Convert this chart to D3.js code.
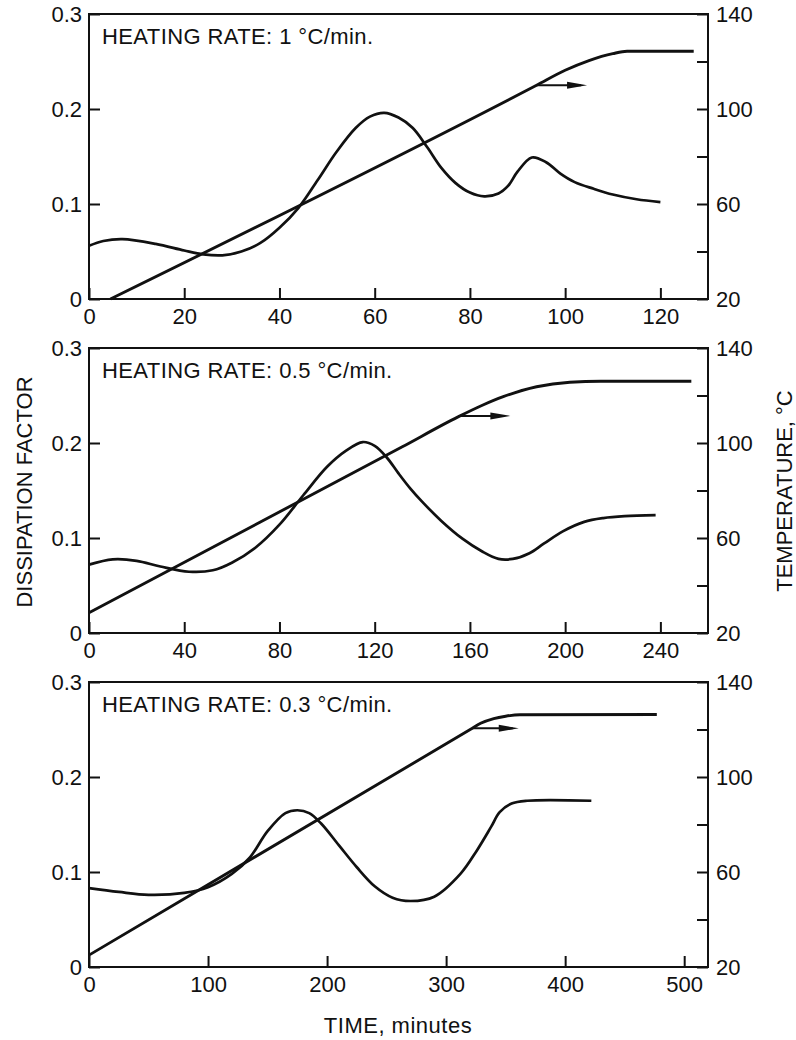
<!DOCTYPE html>
<html>
<head>
<meta charset="utf-8">
<script src="https://d3js.org/d3.v7.min.js"></script>
<style>
  body { margin: 0; background: #fff; }
  text { font-family: "Liberation Sans", Arial, Helvetica, sans-serif; fill: #111; }
</style>
</head>
<body>
<svg id="chart" width="796" height="1040"></svg>
<script>
// heating rate shown in each panel (degC/min)
var rates = ["1", "0.5", "0.3"];

// time axis (minutes)
var timeMax = [130, 260, 520];
var timeTicks1 = [0, 20, 40, 60, 80, 100, 120];
var timeTicks2 = [0, 40, 80, 120, 160, 200, 240];
var timeTicks3 = [0, 100, 200, 300, 400, 500];

// left axis: dissipation factor, right axis: temperature
var dfTicks = [0, 0.1, 0.2, 0.3];
var tempTicks = [20, 40, 60, 80, 100, 120, 140];
var tempLabels = [20, 60, 100, 140];

// dissipation factor curves [time, DF]
var df1 = [[0,0.056],[3,0.061],[7,0.063],[14,0.058],[20,0.051],[24,0.047],[28,0.046],[32,0.050],
  [36,0.059],[40,0.075],[44,0.096],[48,0.125],[52,0.155],[56,0.180],[59,0.192],[62,0.196],
  [65,0.191],[68,0.180],[71,0.160],[74,0.138],[77,0.122],[80,0.112],[83,0.108],[86,0.111],
  [88,0.119],[90,0.134],[93,0.149],[96,0.144],[99,0.132],[102,0.123],[106,0.116],[110,0.110],
  [115,0.105],[120,0.102]];
var df2 = [[0,0.072],[10,0.0775],[20,0.076],[30,0.070],[42,0.0645],[52,0.066],[60,0.074],[70,0.090],
  [80,0.114],[90,0.145],[100,0.175],[108,0.192],[115,0.201],[120,0.197],[125,0.185],[130,0.168],
  [135,0.152],[140,0.138],[148,0.118],[157,0.099],[165,0.086],[172,0.078],[178,0.078],[185,0.084],
  [191,0.094],[199,0.107],[208,0.117],[216,0.121],[225,0.123],[238,0.124]];
var df3 = [[0,0.083],[25,0.079],[50,0.076],[80,0.078],[100,0.084],[120,0.098],[135,0.115],[150,0.143],
  [165,0.162],[175,0.165],[185,0.162],[195,0.151],[210,0.128],[225,0.105],[240,0.085],[255,0.073],
  [270,0.0695],[290,0.074],[312,0.098],[326,0.123],[338,0.148],[345,0.163],[355,0.172],[368,0.175],
  [422,0.175]];

// temperature curves [time, degC]
var temp1 = [[4.5,20],[94,110],[100,116.3],[105,120.4],[110,123.3],[113,124.3],[127,124.3]];
var temp2 = [[0,28.5],[131.6,98.4],[155,111],[165,115.8],[174,119.5],[188,123.7],[202,125.6],[215,126],[253,126]];
var temp3 = [[0,25],[322,120.5],[329,122.6],[340,124.6],[350,125.6],[362,126.2],[477,126.3]];

// arrows pointing to the temperature axis: start [time, degC], end time
var arrowStart = [[94,110],[156,111.4],[322,120.5]];
var arrowEnd = [104.6, 177, 361];

(function() {
  var svg = d3.select("#chart");
  var left = 89, right = 708, plotH = 285;
  var tops = [14, 348, 682];
  var timeTicks = [timeTicks1, timeTicks2, timeTicks3];
  var dfs = [df1, df2, df3];
  var temps = [temp1, temp2, temp3];

  tops.forEach(function(pTop, i) {
    var pBottom = pTop + plotH;
    var x = d3.scaleLinear().domain([0, timeMax[i]]).range([left, right]);
    var yDf = d3.scaleLinear().domain([0, 0.3]).range([pBottom, pTop]);
    var yT = d3.scaleLinear().domain([20, 140]).range([pBottom, pTop]);
    var g = svg.append("g");

    var xAxis = d3.axisBottom(x).tickValues(timeTicks[i]).tickSize(-11).tickPadding(9).tickFormat(d3.format("d"));
    var lAxis = d3.axisLeft(yDf).tickValues(dfTicks).tickSize(-11).tickPadding(7)
      .tickFormat(function(d) { return d === 0 ? "0" : d3.format(".1f")(d); });
    var rAxis = d3.axisRight(yT).tickValues(tempTicks).tickSize(-11).tickPadding(8)
      .tickFormat(function(d) { return tempLabels.indexOf(d) >= 0 ? d : ""; });

    [g.append("g").attr("transform", "translate(0," + pBottom + ")").call(xAxis),
     g.append("g").attr("transform", "translate(" + left + ",0)").call(lAxis),
     g.append("g").attr("transform", "translate(" + right + ",0)").call(rAxis)].forEach(function(a) {
      a.select(".domain").remove();
      a.selectAll("line").attr("stroke", "#111").attr("stroke-width", 2);
      a.selectAll("text").attr("font-size", 22).attr("fill", "#111")
        .style("font-family", "'Liberation Sans', Arial, sans-serif");
    });

    g.append("rect").attr("x", left).attr("y", pTop).attr("width", right - left).attr("height", plotH)
      .attr("fill", "none").attr("stroke", "#111").attr("stroke-width", 2);

    var lineDf = d3.line().x(function(d) { return x(d[0]); }).y(function(d) { return yDf(d[1]); })
      .curve(d3.curveCatmullRom.alpha(0.5));
    var lineT = d3.line().x(function(d) { return x(d[0]); }).y(function(d) { return yT(d[1]); })
      .curve(d3.curveMonotoneX);

    g.append("path").attr("d", lineDf(dfs[i])).attr("fill", "none").attr("stroke", "#111").attr("stroke-width", 2.7);
    g.append("path").attr("d", lineT(temps[i])).attr("fill", "none").attr("stroke", "#111").attr("stroke-width", 2.9);

    // arrow
    var ax0 = x(arrowStart[i][0]), ay = yT(arrowStart[i][1]), ax1 = x(arrowEnd[i]);
    g.append("line").attr("x1", ax0).attr("x2", ax1 - 6).attr("y1", ay).attr("y2", ay)
      .attr("stroke", "#111").attr("stroke-width", 2);
    g.append("path").attr("d", "M" + ax1 + "," + ay + "L" + (ax1 - 20) + "," + (ay - 3.5) + "L" + (ax1 - 20) + "," + (ay + 3.5) + "Z")
      .attr("fill", "#111");

    g.append("text").attr("x", 102).attr("y", pTop + 30).attr("font-size", 22).style("letter-spacing", "0.4px")
      .text("HEATING RATE: " + rates[i] + " \u00B0C/min.");
  });

  svg.append("text").attr("transform", "translate(32,492) rotate(-90)").attr("text-anchor", "middle")
    .attr("font-size", 22).text("DISSIPATION FACTOR");
  svg.append("text").attr("transform", "translate(792,491) rotate(-90)").attr("text-anchor", "middle")
    .attr("font-size", 22).text("TEMPERATURE, \u00B0C");
  svg.append("text").attr("x", 398).attr("y", 1033).attr("text-anchor", "middle")
    .attr("font-size", 22).style("letter-spacing", "0.5px").text("TIME, minutes");
})();
</script>
</body>
</html>
